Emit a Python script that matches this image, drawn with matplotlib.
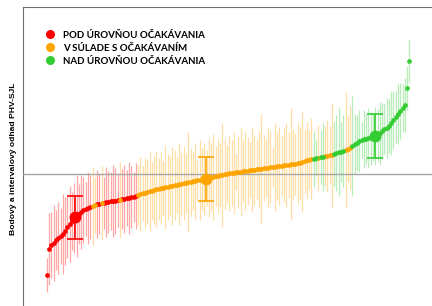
import matplotlib.pyplot as plt
from matplotlib.lines import Line2D

# point estimates per school (sorted) and half width of the interval
values = [
    -101, -75, -71, -69, -66, -64, -62, -60, -57, -53,
    -50, -47, -44, -42, -40, -38, -36, -35, -34, -33,
    -32, -31, -30, -29.5, -29, -28.5, -28, -27.5, -27, -26.8,
    -26.5, -26, -25.5, -25, -24.5, -24, -23.5, -23, -22.5, -22,
    -21, -20, -19, -18.5, -18, -17, -16.5, -16, -15, -14.5,
    -14, -13.5, -13, -12.5, -12, -11.5, -11, -10.5, -10, -9.5,
    -9, -8.5, -8, -7.5, -7, -6.5, -6, -5.5, -5, -4.5,
    -4, -3.5, -3, -2.5, -2, -1.5, -1, -0.5, 0, 0.5,
    1, 1.2, 1.5, 1.8, 2.1, 2.4, 2.8, 3.1, 3.4, 3.7,
    4, 4.3, 4.7, 5, 5.4, 5.7, 6, 6.3, 6.6, 7,
    7.3, 7.6, 8, 8.3, 8.6, 9, 9.3, 9.6, 10, 10.3,
    10.6, 11, 12, 13.5, 14, 14.5, 15, 15.5, 16, 16.5,
    17, 17.5, 18, 18.5, 19, 19.5, 20, 21, 22, 22.5,
    23, 24, 25, 26, 28, 30, 31.5, 33, 34, 35,
    35.5, 36, 36.5, 37, 38, 39.5, 41, 43, 45, 46.5,
    48, 51, 54, 57, 60, 63, 66, 69, 86, 113,
]
half_width = [
    17, 36, 33, 38, 30, 36, 28, 40, 34, 31,
    38, 29, 35, 41, 30, 37, 33, 27, 36, 32,
    39, 28, 34, 30, 37, 26, 35, 31, 29, 36,
    33, 27, 38, 30, 34, 28, 36, 31, 25, 33,
    30, 37, 28, 35, 32, 40, 29, 34, 38, 31,
    36, 27, 42, 33, 30, 39, 35, 28, 41, 32,
    37, 30, 50, 34, 29, 38, 20, 40, 31, 36,
    28, 39, 34, 43, 30, 37, 32, 52, 35, 29,
    38, 33, 41, 18, 36, 44, 31, 39, 34, 28,
    42, 35, 30, 38, 55, 33, 29, 40, 36, 20,
    44, 34, 39, 30, 37, 42, 33, 56, 35, 31,
    40, 36, 50, 32, 38, 30, 41, 28, 18, 33,
    27, 34, 30, 36, 29, 52, 32, 38, 44, 30,
    36, 58, 33, 42, 50, 30, 28, 31, 18, 29,
    25, 30, 27, 24, 29, 26, 31, 28, 25, 30,
    27, 32, 29, 26, 30, 28, 24, 27, 22, 22,
]
# R = pod, O = v sulade, G = nad urovnou
category = ("R" * 20 + "OO" + "RR" + "O" + "R" * 7 + "O" + "R" * 7
            + "O" * 77 + "GG" + "O" + "GG" + "O" * 4 + "G" * 5 + "O" * 3 + "G" * 26)

# group means with their intervals
group_pos = [12.3, 69.7, 143.9]
group_mean = [-43, -5, 38]
group_hw = [21.5, 22, 22]
group_cat = ["R", "O", "G"]

labels = {"R": "POD ÚROVŇOU OČAKÁVANIA",
          "O": "V SÚLADE S OČAKÁVANÍM",
          "G": "NAD ÚROVŇOU OČAKÁVANIA"}
colors = {"R": "#ff0000", "O": "#ffa500", "G": "#33cc33"}

fig = plt.figure(figsize=(4.32, 3.06), dpi=100)
ax = fig.add_axes([23 / 432, -14 / 306, 422 / 432, 313 / 306])

x = list(range(len(values)))

# intervals
for c in "ROG":
    xs = [i for i in x if category[i] == c]
    lo = [values[i] - half_width[i] for i in xs]
    hi = [values[i] + half_width[i] for i in xs]
    ax.vlines(xs, lo, hi, colors=colors[c], alpha=0.35, lw=0.9, zorder=2)

ax.axhline(0, color="#a6a6a6", lw=1.0, zorder=3)

# point estimates
for c in "ROG":
    xs = [i for i in x if category[i] == c]
    ys = [values[i] for i in xs]
    ax.plot(xs, ys, "o", color=colors[c], ms=3.4, mew=0, zorder=4)

# group means
for p, m, h, c in zip(group_pos, group_mean, group_hw, group_cat):
    ax.errorbar(p, m, yerr=h, fmt="o", color=colors[c], ms=7.5,
                elinewidth=1.2, capsize=5.5, capthick=1.2, zorder=5)

ax.set_xlim(-10.5, 174.6)
ax.set_ylim(-146, 167)
ax.set_xticks([])
ax.set_yticks([])
for s in ["left", "top"]:
    ax.spines[s].set_color("#6e6e6e")
    ax.spines[s].set_linewidth(0.8)

handles = [Line2D([], [], marker="o", ls="", color=colors[c], ms=6.5, mew=0) for c in "ROG"]
fig.legend(handles, [labels[c] for c in "ROG"], loc="upper left",
           bbox_to_anchor=(40 / 432, 1 - 26 / 306), frameon=False, borderpad=0,
           handlelength=1.0, handletextpad=0.84, labelspacing=0.4,
           prop={"family": "Lato", "weight": "bold", "size": 7})

fig.text(14 / 432, 1 - 159 / 306, "Bodový a intervalový odhad PHV-SJL", rotation=90,
         ha="center", va="center", fontsize=6.1, fontweight="bold", family="Liberation Sans")

fig.savefig("out.png", dpi=100)
